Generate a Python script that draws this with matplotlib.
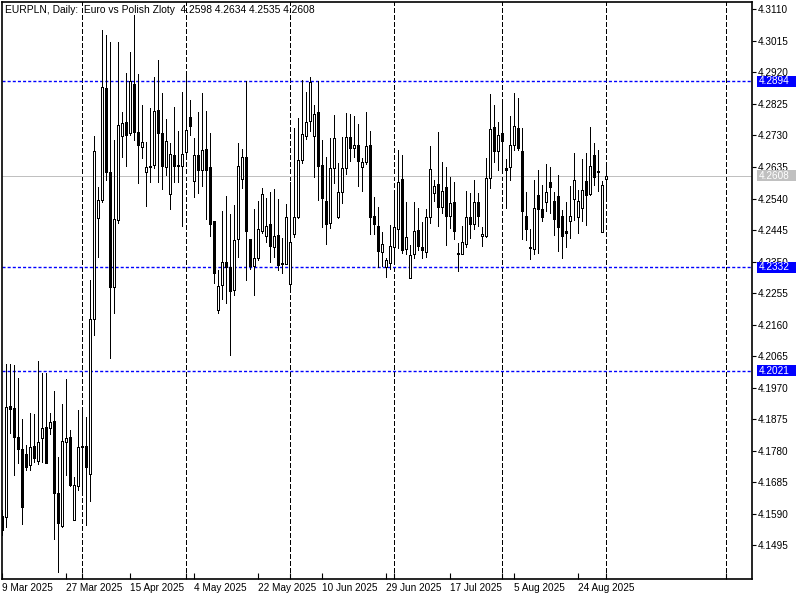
import matplotlib
matplotlib.use("Agg")
import matplotlib.pyplot as plt
from matplotlib.patches import Rectangle

# ---------------- data ----------------
title_text = "EURPLN, Daily:  Euro vs Polish Zloty  4.2598 4.2634 4.2535 4.2608"

opens = [
    4.1580, 4.1580, 4.1914, 4.1908, 4.1818, 4.1782, 4.1769, 4.1736, 4.1791, 4.1748,
    4.1818, 4.1848, 4.1848, 4.1866, 4.1649, 4.1552, 4.1806, 4.1818, 4.1571, 4.1673,
    4.1791, 4.1791, 4.1709, 4.2177, 4.2481, 4.2536, 4.2873, 4.2617, 4.2273, 4.2475,
    4.2729, 4.2768, 4.2738, 4.2885, 4.2738, 4.2696, 4.2620, 4.2635, 4.2641, 4.2804,
    4.2735, 4.2635, 4.2554, 4.2671, 4.2638, 4.2638, 4.2680, 4.2783, 4.2593, 4.2671,
    4.2626, 4.2689, 4.2632, 4.2472, 4.2204, 4.2279, 4.2346, 4.2331, 4.2264, 4.2418,
    4.2599, 4.2665, 4.2415, 4.2337, 4.2361, 4.2442, 4.2427, 4.2463, 4.2394, 4.2427,
    4.2343, 4.2343, 4.2282, 4.2433, 4.2484, 4.2656, 4.2729, 4.2774, 4.2729, 4.2798,
    4.2641, 4.2530, 4.2466, 4.2632, 4.2484, 4.2560, 4.2632, 4.2723, 4.2692, 4.2699,
    4.2635, 4.2650, 4.2699, 4.2487, 4.2457, 4.2379, 4.2334, 4.2346, 4.2394, 4.2448,
    4.2596, 4.2388, 4.2300, 4.2373, 4.2442, 4.2391, 4.2379, 4.2484, 4.2557, 4.2581,
    4.2514, 4.2572, 4.2487, 4.2527, 4.2373, 4.2373, 4.2403, 4.2484, 4.2463, 4.2527,
    4.2427, 4.2427, 4.2602, 4.2753, 4.2683, 4.2735, 4.2629, 4.2635, 4.2702, 4.2750,
    4.2683, 4.2487, 4.2391, 4.2388, 4.2548, 4.2508, 4.2530, 4.2587, 4.2530, 4.2545,
    4.2487, 4.2439, 4.2472, 4.2539, 4.2484, 4.2511, 4.2590, 4.2554, 4.2671, 4.2620,
    4.2439, 4.2598]

highs = [
    4.1601, 4.2041, 4.2041, 4.2038, 4.1999, 4.1875, 4.1797, 4.1893, 4.1890, 4.2050,
    4.2014, 4.2014, 4.1893, 4.1960, 4.1760, 4.1920, 4.1996, 4.1842, 4.1700, 4.1902,
    4.1896, 4.1881, 4.2294, 4.2729, 4.2575, 4.3048, 4.3033, 4.3012, 4.2717, 4.3012,
    4.2801, 4.2918, 4.2982, 4.3093, 4.2915, 4.2822, 4.2711, 4.2813, 4.2906, 4.2958,
    4.2858, 4.2780, 4.2708, 4.2816, 4.2744, 4.2861, 4.2918, 4.2837, 4.2723, 4.2801,
    4.2858, 4.2804, 4.2738, 4.2472, 4.2324, 4.2502, 4.2548, 4.2493, 4.2521, 4.2708,
    4.2689, 4.2894, 4.2415, 4.2508, 4.2533, 4.2572, 4.2542, 4.2560, 4.2569, 4.2539,
    4.2421, 4.2524, 4.2590, 4.2753, 4.2783, 4.2897, 4.2861, 4.2906, 4.2822, 4.2894,
    4.2717, 4.2665, 4.2723, 4.2792, 4.2647, 4.2726, 4.2798, 4.2795, 4.2789, 4.2765,
    4.2662, 4.2801, 4.2744, 4.2545, 4.2514, 4.2439, 4.2361, 4.2460, 4.2554, 4.2686,
    4.2671, 4.2530, 4.2400, 4.2530, 4.2511, 4.2469, 4.2508, 4.2699, 4.2596, 4.2741,
    4.2650, 4.2635, 4.2605, 4.2590, 4.2406, 4.2457, 4.2563, 4.2557, 4.2596, 4.2557,
    4.2454, 4.2662, 4.2855, 4.2822, 4.2771, 4.2825, 4.2659, 4.2789, 4.2858, 4.2843,
    4.2753, 4.2560, 4.2448, 4.2596, 4.2626, 4.2581, 4.2644, 4.2635, 4.2560, 4.2611,
    4.2505, 4.2530, 4.2578, 4.2677, 4.2566, 4.2659, 4.2677, 4.2756, 4.2708, 4.2686,
    4.2593, 4.2634]

lows = [
    4.1525, 4.1549, 4.1833, 4.1706, 4.1742, 4.1558, 4.1722, 4.1722, 4.1745, 4.1739,
    4.1745, 4.1742, 4.1830, 4.1513, 4.1414, 4.1549, 4.1706, 4.1673, 4.1571, 4.1661,
    4.1661, 4.1555, 4.1628, 4.2128, 4.2364, 4.2530, 4.2596, 4.2059, 4.2195, 4.2466,
    4.2665, 4.2638, 4.2732, 4.2717, 4.2587, 4.2662, 4.2517, 4.2590, 4.2632, 4.2590,
    4.2569, 4.2611, 4.2508, 4.2590, 4.2590, 4.2457, 4.2665, 4.2732, 4.2545, 4.2557,
    4.2578, 4.2478, 4.2427, 4.2285, 4.2195, 4.2237, 4.2225, 4.2068, 4.2249, 4.2364,
    4.2572, 4.2294, 4.2328, 4.2249, 4.2355, 4.2436, 4.2409, 4.2349, 4.2364, 4.2324,
    4.2315, 4.2343, 4.2273, 4.2424, 4.2481, 4.2647, 4.2720, 4.2744, 4.2605, 4.2536,
    4.2454, 4.2403, 4.2451, 4.2587, 4.2481, 4.2527, 4.2614, 4.2653, 4.2665, 4.2578,
    4.2563, 4.2644, 4.2433, 4.2433, 4.2334, 4.2337, 4.2303, 4.2328, 4.2349, 4.2391,
    4.2376, 4.2373, 4.2300, 4.2361, 4.2385, 4.2361, 4.2364, 4.2466, 4.2533, 4.2457,
    4.2496, 4.2400, 4.2451, 4.2418, 4.2321, 4.2373, 4.2394, 4.2421, 4.2448, 4.2457,
    4.2397, 4.2424, 4.2572, 4.2650, 4.2626, 4.2623, 4.2511, 4.2596, 4.2686, 4.2686,
    4.2418, 4.2415, 4.2358, 4.2373, 4.2376, 4.2472, 4.2502, 4.2496, 4.2430, 4.2382,
    4.2361, 4.2394, 4.2421, 4.2475, 4.2436, 4.2472, 4.2460, 4.2551, 4.2581, 4.2563,
    4.2439, 4.2535]

closes = [
    4.1540, 4.1911, 4.1905, 4.1818, 4.1782, 4.1607, 4.1730, 4.1791, 4.1757, 4.1806,
    4.1848, 4.1742, 4.1866, 4.1649, 4.1561, 4.1809, 4.1818, 4.1673, 4.1676, 4.1791,
    4.1790, 4.1730, 4.2177, 4.2683, 4.2536, 4.2876, 4.2617, 4.2273, 4.2478, 4.2762,
    4.2768, 4.2729, 4.2894, 4.2738, 4.2699, 4.2711, 4.2635, 4.2638, 4.2804, 4.2735,
    4.2638, 4.2714, 4.2674, 4.2638, 4.2637, 4.2674, 4.2747, 4.2756, 4.2671, 4.2623,
    4.2686, 4.2623, 4.2463, 4.2315, 4.2276, 4.2349, 4.2331, 4.2261, 4.2415, 4.2638,
    4.2665, 4.2439, 4.2334, 4.2361, 4.2448, 4.2554, 4.2457, 4.2394, 4.2427, 4.2337,
    4.2342, 4.2484, 4.2409, 4.2484, 4.2656, 4.2735, 4.2771, 4.2891, 4.2795, 4.2638,
    4.2539, 4.2463, 4.2632, 4.2723, 4.2560, 4.2632, 4.2726, 4.2692, 4.2702, 4.2653,
    4.2650, 4.2699, 4.2484, 4.2463, 4.2379, 4.2403, 4.2355, 4.2397, 4.2454, 4.2590,
    4.2382, 4.2424, 4.2370, 4.2442, 4.2394, 4.2382, 4.2484, 4.2629, 4.2578, 4.2514,
    4.2563, 4.2487, 4.2527, 4.2439, 4.2372, 4.2409, 4.2484, 4.2463, 4.2530, 4.2487,
    4.2433, 4.2602, 4.2750, 4.2683, 4.2732, 4.2711, 4.2623, 4.2702, 4.2759, 4.2692,
    4.2502, 4.2448, 4.2388, 4.2511, 4.2508, 4.2484, 4.2560, 4.2572, 4.2478, 4.2454,
    4.2424, 4.2433, 4.2487, 4.2596, 4.2533, 4.2566, 4.2548, 4.2638, 4.2602, 4.2617,
    4.2581, 4.2608]

date_labels = ["9 Mar 2025", "27 Mar 2025", "15 Apr 2025", "4 May 2025", "22 May 2025",
               "10 Jun 2025", "29 Jun 2025", "17 Jul 2025", "5 Aug 2025", "24 Aug 2025"]
date_label_bars = [0, 16, 32, 48, 64, 80, 96, 112, 128, 144]
month_grid_bars = [20, 46, 72, 98, 125, 151, 181]

price_ticks = [4.1495, 4.1590, 4.1685, 4.1780, 4.1875, 4.1970, 4.2065, 4.2160, 4.2255,
               4.2350, 4.2445, 4.2540, 4.2635, 4.2730, 4.2825, 4.2920, 4.3015, 4.3110]
level_lines = [4.2894, 4.2332, 4.2021]
bid_price = 4.2608

# ---------------- style ----------------
FONT = "Liberation Sans"
plt.rcParams["font.family"] = [FONT, "DejaVu Sans"]
plt.rcParams["lines.scale_dashes"] = False

W, H = 800, 600
PX = 72.0 / 100.0  # one pixel in points
fig = plt.figure(figsize=(8, 6), dpi=100, facecolor="white")
ax_left, ax_right, ax_top, ax_bottom = 2, 752, 2, 579
ax = fig.add_axes([ax_left / W, 1 - ax_bottom / H, (ax_right - ax_left) / W,
                   (ax_bottom - ax_top) / H])
ax.set_facecolor("white")
ax.set_xlim(0, 187.5)
ax.set_ylim(4.13925, 4.31326)
ppu = (ax.get_ylim()[1] - ax.get_ylim()[0]) / (ax_bottom - ax_top)  # price per pixel

for s in ax.spines.values():
    s.set_color("black")
    s.set_linewidth(1.2)

# grid lines (month boundaries)
for b in month_grid_bars:
    ax.axvline(b, color="black", lw=PX, dashes=(3, 2), zorder=1, antialiased=False)

# level lines
for lv in level_lines:
    ax.axhline(lv, color=(0.0, 0.0, 1.0), lw=1.0, dashes=(2.2, 1.5), zorder=2)
ax.axhline(bid_price, color="#C0C0C0", lw=PX, zorder=1, antialiased=False)

# candles
xs = list(range(len(opens)))
ax.vlines(xs, lows, highs, color="black", lw=PX, zorder=3, antialiased=False)
for x, o, c in zip(xs, opens, closes):
    bottom = min(o, c)
    if c >= o:
        height = max(c - o, ppu * 0.1)
        ax.add_patch(Rectangle((x - 0.25, bottom), 0.5, height, facecolor="white",
                               edgecolor="black", lw=PX, zorder=4, antialiased=False))
    else:
        height = max(o - c, ppu * 1.0)
        ax.add_patch(Rectangle((x - 0.375, bottom - ppu * 0.5), 0.75, height + ppu,
                               facecolor="black", edgecolor="none", zorder=4,
                               antialiased=False))

# y axis on right
ax.yaxis.tick_right()
ax.set_yticks(price_ticks)
ax.set_yticklabels([f"{p:.4f}" for p in price_ticks])
ax.tick_params(axis="y", direction="out", length=3, width=0.8, pad=1.5,
               labelsize=7.2, colors="black")

# x axis
ax.set_xticks(date_label_bars)
ax.set_xticklabels(date_labels)
for lbl in ax.get_xticklabels():
    lbl.set_horizontalalignment("left")
ax.set_xticks(month_grid_bars, minor=True)
ax.tick_params(axis="x", which="both", direction="in", length=4, width=0.8,
               pad=3, labelsize=7.2)

# title
ax.text(0.004, 0.995, title_text, transform=ax.transAxes, ha="left", va="top",
        fontsize=7.4, color="black", zorder=6)

# highlighted price labels
fig.canvas.draw()
def price_box(price, bg):
    _, ydisp = ax.transData.transform((0, price))
    yfig = ydisp / H
    h = 11 / H
    fig.patches.append(Rectangle((757 / W, yfig - h / 2), 39 / W, h,
                                 transform=fig.transFigure, facecolor=bg,
                                 edgecolor="none", zorder=5))
    fig.text(759 / W, yfig, f"{price:.4f}", ha="left", va="center",
             fontsize=7.2, color="white", zorder=6)

for lv in level_lines:
    price_box(lv, "#0000FF")
price_box(bid_price, "#C0C0C0")

fig.savefig("out.png", dpi=100, facecolor="white")
